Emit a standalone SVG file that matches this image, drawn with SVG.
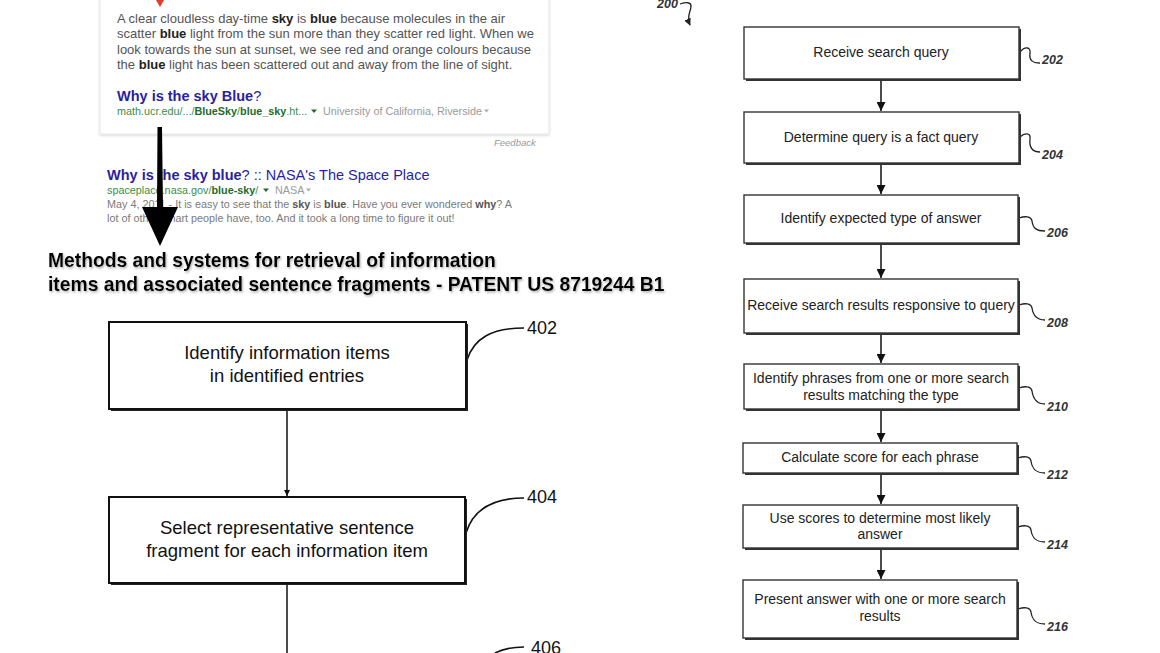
<svg xmlns="http://www.w3.org/2000/svg" width="1160" height="653" viewBox="0 0 1160 653">
<defs>
<style>
.g{font-family:"Liberation Sans",Arial,sans-serif}
.snip{font-size:13px;fill:#545454}
.snip .b{font-weight:bold;fill:#222}
.ttl{font-size:14.5px;fill:#2a1f9e}
.ttl .b{font-weight:bold}
.url{font-size:10.8px;fill:#3d8c49}
.url .b{font-weight:bold;fill:#1f6b2d}
.gray{font-size:10.8px;fill:#9a9a9a}
.snip2{font-size:10.8px;fill:#7a7a7a}
.snip2 .b{font-weight:bold;fill:#555}
.head{font-size:19.3px;font-weight:bold;fill:#000}
.lbox{fill:#fff;stroke:#111;stroke-width:2}
.lsh{fill:#222}
.ltxt{font-size:18.5px;fill:#111;text-anchor:middle}
.lnum{font-size:18px;fill:#111}
.rbox{fill:#fff;stroke:#333;stroke-width:1.4}
.rsh{fill:#333}
.rtxt{font-size:14px;fill:#222;text-anchor:middle}
.rnum{font-size:12.5px;font-style:italic;font-weight:bold;fill:#333}
.conn{stroke:#111;stroke-width:1.5;fill:none}
.lead{stroke:#222;stroke-width:1.3;fill:none}
.llead{stroke:#111;stroke-width:1.6;fill:none}
</style>
<marker id="ah" viewBox="0 0 10 10" refX="10" refY="5" markerWidth="6.5" markerHeight="7" markerUnits="userSpaceOnUse" orient="auto">
<path d="M0,0 L10,5 L0,10 z" fill="#111"/>
</marker>
<marker id="ahR" viewBox="0 0 10 10" refX="10" refY="5" markerWidth="11" markerHeight="9" markerUnits="userSpaceOnUse" orient="auto">
<path d="M0,0 L10,5 L0,10 z" fill="#111"/>
</marker>
<marker id="ahS" viewBox="0 0 10 10" refX="9" refY="5" markerWidth="7" markerHeight="7" markerUnits="userSpaceOnUse" orient="auto">
<path d="M0,0 L10,5 L0,10 z" fill="#222"/>
</marker>
<filter id="card" x="-5%" y="-5%" width="110%" height="115%">
<feDropShadow dx="0" dy="1" stdDeviation="1.2" flood-color="#000" flood-opacity="0.18"/>
</filter>
<filter id="tsh" x="-5%" y="-20%" width="110%" height="150%">
<feDropShadow dx="1" dy="1.5" stdDeviation="1" flood-color="#777" flood-opacity="0.6"/>
</filter>
</defs>
<rect x="0" y="0" width="1160" height="653" fill="#fff"/>

<g id="search-card" class="g">
<rect x="100" y="-6" width="449" height="140" fill="#fff" stroke="#e6e6e6" stroke-width="1" filter="url(#card)"/>
<polygon points="156,0 164,0 160,7" fill="#e23b2e"/>
<text class="snip" x="117" y="22.5">A clear cloudless day-time <tspan class="b">sky</tspan> is <tspan class="b">blue</tspan> because molecules in the air</text>
<text class="snip" x="117" y="38">scatter <tspan class="b">blue</tspan> light from the sun more than they scatter red light. When we</text>
<text class="snip" x="117" y="53.5">look towards the sun at sunset, we see red and orange colours because</text>
<text class="snip" x="117" y="69">the <tspan class="b">blue</tspan> light has been scattered out and away from the line of sight.</text>
<text class="ttl" x="117" y="101"><tspan class="b">Why is the sky Blue</tspan>?</text>
<text class="url" x="117" y="114.5">math.ucr.edu/.../<tspan class="b">BlueSky</tspan>/<tspan class="b">blue_sky</tspan>.ht...</text>
<polygon points="311,109.5 317,109.5 314,113" fill="#1f6b2d"/>
<text class="gray" x="323" y="114.5">University of California, Riverside</text>
<polygon points="484,109.5 489,109.5 486.5,112.5" fill="#aaa"/>
<text x="494" y="146" class="g" font-size="9.5" font-style="italic" fill="#9a9a9a">Feedback</text>
</g>

<g id="search-result-2" class="g">
<text class="ttl" x="107" y="179.5"><tspan class="b">Why is the sky blue</tspan>? :: NASA's The Space Place</text>
<text class="url" x="107" y="193.5">spaceplace.nasa.gov/<tspan class="b">blue-sky</tspan>/</text>
<polygon points="263,188.5 269,188.5 266,192" fill="#1f6b2d"/>
<text class="gray" x="275" y="193.5">NASA</text>
<polygon points="306,188.5 311,188.5 308.5,191.5" fill="#aaa"/>
<text class="snip2" x="107" y="207.5">May 4, 2011 - It is easy to see that the <tspan class="b">sky</tspan> is <tspan class="b">blue</tspan>. Have you ever wondered <tspan class="b">why</tspan>? A</text>
<text class="snip2" x="107" y="222">lot of other smart people have, too. And it took a long time to figure it out!</text>
</g>

<g id="patent-title" class="g" filter="url(#tsh)">
<text class="head" x="48" y="267">Methods and systems for retrieval of information</text>
<text class="head" x="48" y="291">items and associated sentence fragments - PATENT US 8719244 B1</text>
</g>

<g id="connectors">
<polygon points="157.5,127 162,127 163,207 178,207 160,246 142,207 157,207" fill="#000"/>
<line class="conn" x1="287" y1="409" x2="287" y2="496" marker-end="url(#ah)"/>
<line class="conn" x1="287" y1="584" x2="287" y2="653"/>
<path class="llead" d="M467,360 C474,338 492,328 524,328"/>
<path class="llead" d="M466,533 C473,510 491,498 524,498"/>
<path class="llead" d="M495,653 C503,649 512,647 524,647"/>
<line class="conn" x1="881" y1="80" x2="881" y2="111" marker-end="url(#ahR)"/>
<line class="conn" x1="881" y1="164" x2="881" y2="194" marker-end="url(#ahR)"/>
<line class="conn" x1="881" y1="244" x2="881" y2="278" marker-end="url(#ahR)"/>
<line class="conn" x1="881" y1="334" x2="881" y2="363" marker-end="url(#ahR)"/>
<line class="conn" x1="881" y1="410" x2="881" y2="442" marker-end="url(#ahR)"/>
<line class="conn" x1="881" y1="474" x2="881" y2="504" marker-end="url(#ahR)"/>
<line class="conn" x1="881" y1="549" x2="881" y2="579" marker-end="url(#ahR)"/>
<path class="lead" d="M680,4 C686,2 691,2 691,6 C691,12 686,16 690,25" marker-end="url(#ahS)"/>
<path class="lead" d="M1020,52 C1025,46 1031,47 1030,53 C1029,60 1032,63 1040,63"/>
<path class="lead" d="M1020,137 C1025,132 1031,133 1030,139 C1029,147 1032,152 1040,152"/>
<path class="lead" d="M1019,218 C1025,216 1031,216 1032,221 C1033,228 1036,231 1045,231"/>
<path class="lead" d="M1019,305 C1025,303 1031,303 1032,308 C1033,315 1036,320 1045,320"/>
<path class="lead" d="M1019,388 C1025,386 1031,386 1032,391 C1033,398 1036,404 1045,404"/>
<path class="lead" d="M1018,458 C1024,456 1030,456 1031,461 C1032,468 1035,473 1045,473"/>
<path class="lead" d="M1018,527 C1024,525 1030,525 1031,530 C1032,537 1035,542 1045,542"/>
<path class="lead" d="M1018,609 C1024,607 1030,607 1031,612 C1032,619 1035,624 1045,624"/>
</g>

<g id="label-200" class="g"><text class="rnum" x="657" y="8">200</text></g>

<g id="n402" class="g">
<rect class="lsh" x="111" y="324" width="357" height="87"/>
<rect class="lbox" x="109" y="322" width="357" height="87"/>
<text class="ltxt" x="287" y="359">Identify information items</text>
<text class="ltxt" x="287" y="382">in identified entries</text>
<text class="lnum" x="527" y="334">402</text>
</g>
<g id="n404" class="g">
<rect class="lsh" x="111" y="499" width="356" height="86"/>
<rect class="lbox" x="109" y="497" width="356" height="86"/>
<text class="ltxt" x="287" y="534">Select representative sentence</text>
<text class="ltxt" x="287" y="557">fragment for each information item</text>
<text class="lnum" x="527" y="503">404</text>
</g>
<g id="n406" class="g">
<text class="lnum" x="531" y="654">406</text>
</g>

<g id="n202" class="g">
<rect class="rsh" x="746" y="29" width="275" height="52"/>
<rect class="rbox" x="744" y="27" width="275" height="52"/>
<text class="rtxt" x="881" y="57">Receive search query</text>
<text class="rnum" x="1042" y="64">202</text>
</g>
<g id="n204" class="g">
<rect class="rsh" x="746" y="114" width="275" height="51"/>
<rect class="rbox" x="744" y="112" width="275" height="51"/>
<text class="rtxt" x="881" y="142">Determine query is a fact query</text>
<text class="rnum" x="1042" y="159">204</text>
</g>
<g id="n206" class="g">
<rect class="rsh" x="746" y="197" width="274" height="48"/>
<rect class="rbox" x="744" y="195" width="274" height="48"/>
<text class="rtxt" x="881" y="223">Identify expected type of answer</text>
<text class="rnum" x="1047" y="237">206</text>
</g>
<g id="n208" class="g">
<rect class="rsh" x="746" y="281" width="274" height="54"/>
<rect class="rbox" x="744" y="279" width="274" height="54"/>
<text class="rtxt" x="881" y="310">Receive search results responsive to query</text>
<text class="rnum" x="1047" y="327">208</text>
</g>
<g id="n210" class="g">
<rect class="rsh" x="746" y="366" width="274" height="45"/>
<rect class="rbox" x="744" y="364" width="274" height="45"/>
<text class="rtxt" x="881" y="383">Identify phrases from one or more search</text>
<text class="rtxt" x="881" y="400">results matching the type</text>
<text class="rnum" x="1047" y="411">210</text>
</g>
<g id="n212" class="g">
<rect class="rsh" x="745" y="445" width="274" height="30"/>
<rect class="rbox" x="743" y="443" width="274" height="30"/>
<text class="rtxt" x="880" y="462">Calculate score for each phrase</text>
<text class="rnum" x="1047" y="479">212</text>
</g>
<g id="n214" class="g">
<rect class="rsh" x="745" y="507" width="274" height="43"/>
<rect class="rbox" x="743" y="505" width="274" height="43"/>
<text class="rtxt" x="880" y="523">Use scores to determine most likely</text>
<text class="rtxt" x="880" y="539">answer</text>
<text class="rnum" x="1047" y="549">214</text>
</g>
<g id="n216" class="g">
<rect class="rsh" x="745" y="582" width="274" height="58"/>
<rect class="rbox" x="743" y="580" width="274" height="58"/>
<text class="rtxt" x="880" y="604">Present answer with one or more search</text>
<text class="rtxt" x="880" y="621">results</text>
<text class="rnum" x="1047" y="631">216</text>
</g>
</svg>
